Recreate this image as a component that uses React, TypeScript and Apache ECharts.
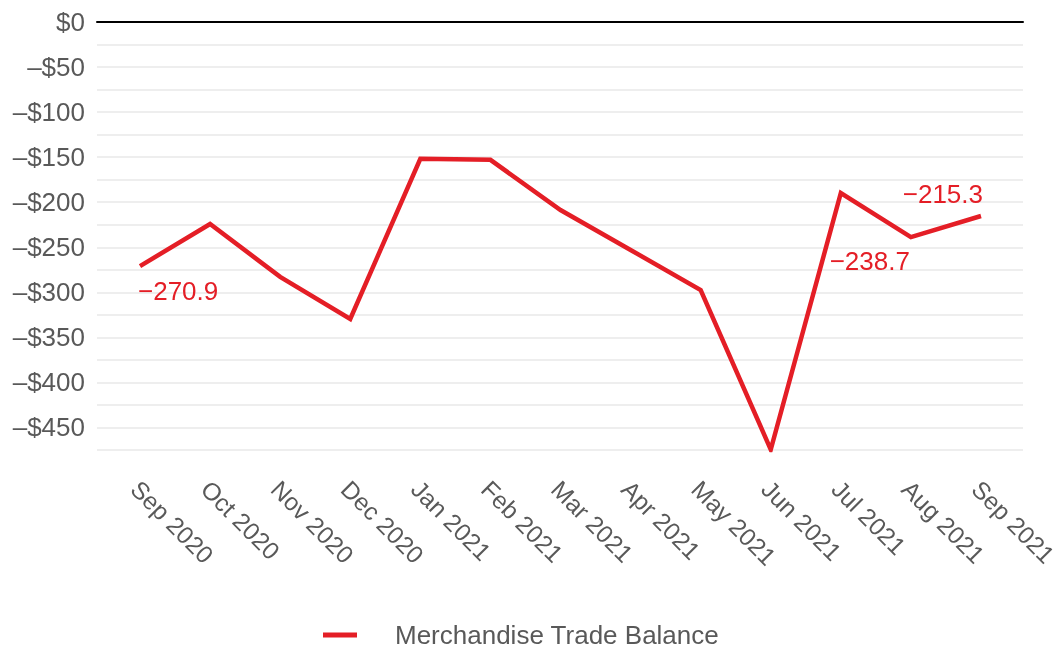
import React, { useEffect, useRef } from "react";
import * as echarts from "echarts";

const months = [
  "Sep 2020", "Oct 2020", "Nov 2020", "Dec 2020", "Jan 2021", "Feb 2021", "Mar 2021",
  "Apr 2021", "May 2021", "Jun 2021", "Jul 2021", "Aug 2021", "Sep 2021",
];
const balance = [-270.9, -224.2, -282.8, -329.6, -151.8, -153.0, -208.7, -253.0, -297.5, -474.5, -189.8, -238.7, -215.3];
const labelledIdx = [0, 11, 12];
const seriesName = "Merchandise Trade Balance";
const yMin = -475;
const yMax = 0;

const RED = "#e41e26";
const GREY_TEXT = "#595959";
const FONT = "'Liberation Sans', Arial, sans-serif";

const fmtMoney = (v: number) => (v === 0 ? "$0" : "\u2013$" + Math.abs(v));
const fmtVal = (v: number) => "\u2212" + Math.abs(v).toFixed(1);

export default function App() {
  const ref = useRef<HTMLDivElement>(null);
  useEffect(() => {
    if (!ref.current) return;
    const chart = echarts.init(ref.current, undefined, { renderer: "svg" });

    const labelCfg: Record<number, any> = {
      0: { position: "bottom", align: "left", distance: 11, offset: [-2, 0] },
      11: { position: "bottom", align: "right", distance: 10, offset: [-1, 0] },
      12: { position: "top", align: "right", distance: 8, offset: [2, 0] },
    };

    const data = balance.map((v, i) => {
      if (labelledIdx.includes(i)) {
        return {
          value: v,
          label: {
            show: true,
            formatter: fmtVal(v),
            color: RED,
            fontSize: 26,
            fontFamily: FONT,
            ...labelCfg[i],
          },
        };
      }
      return { value: v };
    });

    chart.setOption({
      animation: false,
      textStyle: { fontFamily: FONT },
      grid: [
        { left: 97, right: 37, top: 22, bottom: 200, containLabel: false, outerBoundsMode: "none" },
        { left: 140, right: 79, top: 22, bottom: 200, containLabel: false, outerBoundsMode: "none" },
      ],
      xAxis: [
        {
          gridIndex: 0,
          type: "value",
          min: 0,
          max: 1,
          position: "top",
          axisLine: { show: true, onZero: false, lineStyle: { color: "#000", width: 2 } },
          axisTick: { show: false },
          axisLabel: { show: false },
          splitLine: { show: false },
        },
        {
          gridIndex: 1,
          type: "category",
          data: months,
          boundaryGap: false,
          axisLine: { show: false },
          axisTick: { show: false },
          splitLine: { show: false },
          axisLabel: {
            rotate: -45,
            interval: 0,
            margin: 40,
            padding: [0, 0, 0, -7],
            fontSize: 24.5,
            color: GREY_TEXT,
            fontFamily: FONT,
          },
        },
      ],
      yAxis: [
        {
          gridIndex: 0,
          type: "value",
          min: yMin,
          max: yMax,
          interval: 25,
          axisLine: { show: false },
          axisTick: { show: false },
          axisLabel: {
            margin: 12,
            fontSize: 26,
            color: GREY_TEXT,
            fontFamily: FONT,
            formatter: (v: number) => (v % 50 === 0 ? fmtMoney(v) : ""),
          },
          splitLine: { show: true, lineStyle: { color: "#e8e8e8", width: 1.5 } },
        },
        {
          gridIndex: 1,
          type: "value",
          min: yMin,
          max: yMax,
          show: false,
          splitLine: { show: false },
        },
      ],
      legend: {
        left: 323,
        top: 622,
        padding: 0,
        itemWidth: 34,
        itemHeight: 5,
        icon: "rect",
        itemStyle: { color: RED, opacity: 1 },
        data: [{ name: seriesName, itemStyle: { color: RED, opacity: 1 } }],
        textStyle: {
          fontSize: 26,
          lineHeight: 26,
          color: GREY_TEXT,
          fontFamily: FONT,
          padding: [0, 0, 0, 33],
        },
      },
      series: [
        {
          name: seriesName,
          type: "line",
          xAxisIndex: 1,
          yAxisIndex: 1,
          data,
          showSymbol: true,
          symbol: "circle",
          symbolSize: 1,
          itemStyle: { color: "rgba(0,0,0,0)", opacity: 1 },
          lineStyle: { color: RED, width: 4.5, join: "miter" },
          label: { show: false },
          emphasis: { disabled: true },
        },
      ],
    });

    return () => chart.dispose();
  }, []);

  return (
    <div
      ref={ref}
      style={{ position: "fixed", left: 0, top: 0, width: 1060, height: 650 }}
    />
  );
}
